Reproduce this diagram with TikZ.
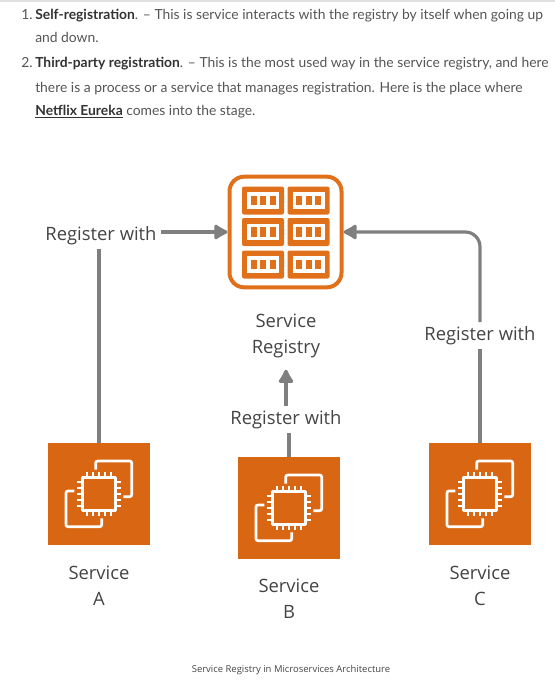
\documentclass[tikz,border=0pt]{standalone}
\usepackage{fontspec}
\setmainfont{Open Sans}
\newfontfamily\bodyfont{Lato}
\usetikzlibrary{arrows.meta}
\definecolor{awsorange}{HTML}{D86613}
\definecolor{regorange}{HTML}{E0711A}
\definecolor{linegray}{HTML}{7F7F7F}
\definecolor{bodygray}{HTML}{555555}
\definecolor{labelgray}{HTML}{444444}
\tikzset{
	bodyline/.style={anchor=base west,inner sep=0pt,text=bodygray,font=\bodyfont\fontsize{10.4}{12}\selectfont},
	label/.style={align=center,text=labelgray,inner sep=2pt,font=\fontsize{13.8}{19.5}\selectfont},
	reglabel/.style={label,inner sep=3pt},
	svcbox/.style={fill=awsorange,minimum size=76.5pt,inner sep=0pt,outer sep=0pt},
	regbox/.style={draw=regorange,line width=3pt,rounded corners=11pt,minimum width=84pt,minimum height=83pt,inner sep=0pt,outer sep=1.5pt},
	regline/.style={draw=linegray,line width=2.4pt},
	regarrow/.style={regline,-{Latex[length=12pt,width=14pt,round]}},
	pics/chip/.style={code={
		\draw[white,line width=2pt,line join=round] (-16.5,-16.5) rectangle (16.5,16.5);
		\foreach \p in {-12,-6,0,6,12}{
			\draw[white,line width=1.9pt] (\p,-16.5) -- (\p,-22) (\p,16.5) -- (\p,22);
			\draw[white,line width=1.9pt] (-16.5,\p) -- (-22,\p) (16.5,\p) -- (22,\p);
		}
		\draw[white,line width=2pt,rounded corners=1.5pt] (-3.3,-24.5) |- (32.7,-33) |- (24.3,2.7);
		\draw[white,line width=2pt,rounded corners=1.5pt] (-24.7,-3) -| (-33,32.7) -| (2.7,24.3);
	}},
	pics/rack/.style={code={
		\fill[regorange,rounded corners=1.5pt] (-21,-14) rectangle (21,14);
		\fill[white] (-16,-8.5) rectangle (16,8);
		\foreach \p in {-9.5,0,9.5}
			\fill[regorange] (\p-3,-5) rectangle (\p+3,4.5);
	}}
}
\begin{document}
\begin{tikzpicture}[x=0.75pt,y=-0.75pt]
	\useasboundingbox (0,0) rectangle (555,682);
	\fill[gray!25] (0,0) rectangle (555,1.5);
	% text above the figure
	\node[bodyline] (num1) at (21,19) {1.};
	\node[bodyline] (line1) at (35,19) {\textbf{\textcolor{black!80}{Self-registration}}. – This is service interacts with the registry by itself when going up};
	\node[bodyline] (line2) at (35,42) {and down.};
	\node[bodyline] (num2) at (21,67) {2.};
	\node[bodyline] (line3) at (35,67) {\textbf{\textcolor{black!80}{Third-party registration}}. – This is the most used way in the service registry, and here};
	\node[bodyline] (line4) at (35,92) {there is a process or a service that manages registration. Here is the place where};
	\node[bodyline] (line5) at (35,115) {\textbf{\textcolor{black!80}{\underline{Netflix Eureka}}} comes into the stage.};
	% registry
	\node[regbox] (registry) at (285.5,232) {};
	\foreach \c in {263,308.5}
		\foreach \r in {200.5,232,264.5}
			\pic at (\c,\r) {rack};
	\node[label] (regname) at (286,335.5) {Service\\Registry};
	% services
	\node[svcbox] (svca) at (99,494) {};
	\node[svcbox] (svcb) at (289,508) {};
	\node[svcbox] (svcc) at (480,494) {};
	\pic at (svca) {chip};
	\pic at (svcb) {chip};
	\pic at (svcc) {chip};
	\node[label] (namea) at (99,586) {Service\\A};
	\node[label] (nameb) at (289,599) {Service\\B};
	\node[label] (namec) at (480,586) {Service\\C};
	% register labels
	\node[reglabel] (rega) at (101,235.5) {Register with};
	\node[reglabel] (regb) at (286,419.5) {Register with};
	\node[reglabel] (regc) at (480,335.5) {Register with};
	% connectors
	\draw[regline] (svca) -- (rega.south -| svca);
	\draw[regarrow] (rega.east |- registry) -- (registry);
	\draw[regline] (svcb) -- (regb.south -| svcb);
	\draw[regarrow,shorten >=7pt] (regb) -- (regname);
	\draw[regline] (svcc) -- (regc);
	\draw[regarrow,rounded corners=11pt] (regc) |- (registry);
	\node[font=\fontsize{7.1}{9}\selectfont,text=labelgray] (caption) at (291,670) {Service Registry in Microservices Architecture};
\end{tikzpicture}
\end{document}
